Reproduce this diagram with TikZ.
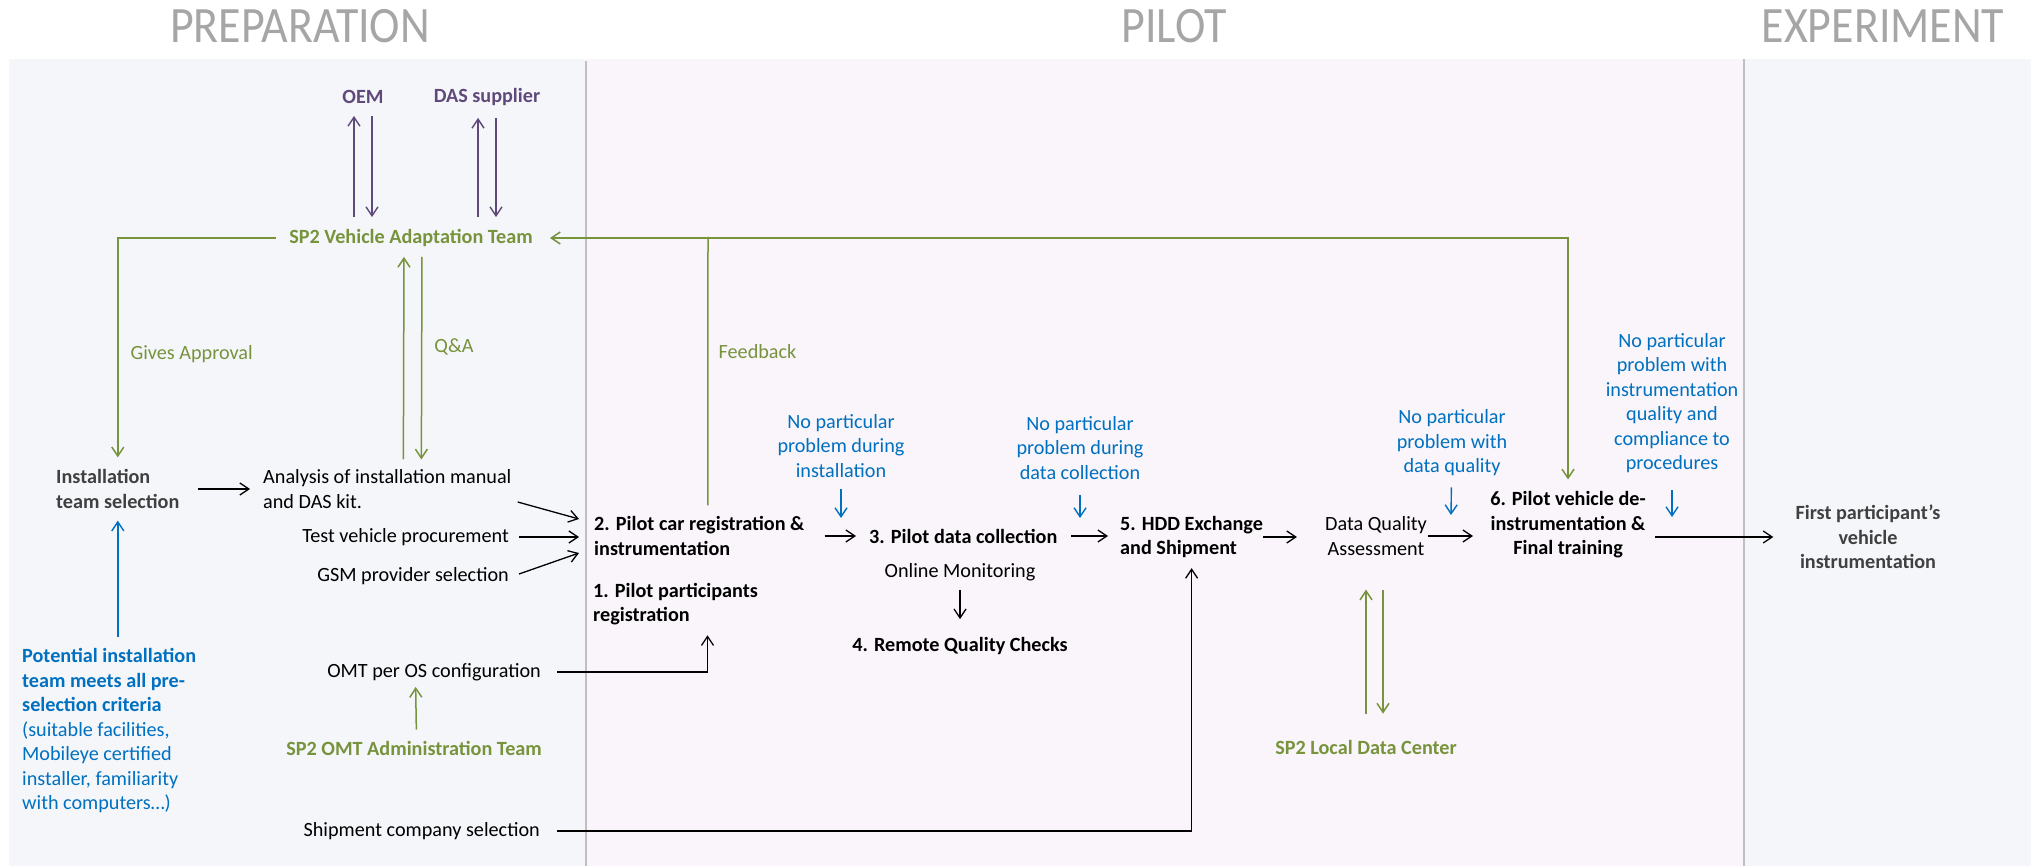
\documentclass[tikz,border=0pt]{standalone}
\usepackage{fontspec}
\setmainfont{Carlito}
\usetikzlibrary{positioning, arrows.meta}

\definecolor{teamgreen}{HTML}{77933C}
\definecolor{supplierpurple}{HTML}{5F497A}
\definecolor{noteblue}{HTML}{0070C0}
\definecolor{ink}{HTML}{404040}
\definecolor{phasegray}{HTML}{A6A6A6}
\definecolor{prepbg}{HTML}{F5F6FA}
\definecolor{pilotbg}{HTML}{F9F5FA}
\definecolor{divider}{HTML}{BFBFBF}

\tikzset{
  txt/.style={font=\fontsize{20.2}{24.5}\selectfont, inner sep=0pt, align=center},
  bld/.style={txt, font=\fontsize{20.2}{24.5}\selectfont\bfseries},
  dark/.style={bld, text=ink},
  team/.style={bld, text=teamgreen},
  supp/.style={bld, text=supplierpurple},
  note/.style={txt, text=noteblue},
  lbl/.style={txt, text=teamgreen, anchor=west},
  phase/.style={font=\fontsize{51}{60}\selectfont, text=phasegray, inner sep=0pt, anchor=base},
  greenline/.style={color=teamgreen, line width=1.5pt},
  purpleline/.style={color=supplierpurple, line width=1.4pt},
  blueline/.style={color=noteblue, line width=1.4pt},
  blackline/.style={color=black, line width=1.3pt}
}

\begin{document}
\begin{tikzpicture}[x=1pt, y=-1pt, node distance=24pt, on grid,
    >={Straight Barb[length=9pt,width=12pt]}]

% panels
\useasboundingbox (0,0) rectangle (2031,866);
\fill[prepbg]  (9,59)    rectangle (586,866);
\fill[pilotbg] (586,59)  rectangle (1744,866);
\fill[prepbg]  (1744,59) rectangle (2031,866);
\draw[divider, line width=2pt] (586,61) -- (586,866) (1744,59) -- (1744,866);

% phase titles
\node[phase] (prep)  at (300,43)  {\scalebox{0.9}[1]{PREPARATION}};
\node[phase] (pilot) at (1174,43) {\scalebox{0.9}[1]{PILOT}};
\node[phase] (exper) at (1883,43) {\scalebox{0.9}[1]{EXPERIMENT}};

% preparation
\node[supp]                 (oem)     at (363,97)  {OEM};
\node[supp]                 (das)     [right=124pt of oem] {DAS supplier};
\node[team]                 (vat)     at (411,238) {SP2 Vehicle Adaptation Team};
\node[dark, anchor=west, align=left] (inst) at (56,489) {Installation\\team selection};
\node[txt, anchor=west, align=left]  (anal) at (263,489) {Analysis of installation manual\\and DAS kit.};
\node[txt, anchor=east]     (testv)   at (509,537) {Test vehicle procurement};
\node[txt, anchor=east]     (gsm)     at (509,576) {GSM provider selection};
\node[txt, anchor=east]     (omt)     at (541,672) {OMT per OS configuration};
\node[team, anchor=east]    (omtadm)  at (542,748) {SP2 OMT Administration Team};
\node[txt, anchor=east]     (ship)    at (540,831) {Shipment company selection};
\node[note, anchor=west, align=left] (crit) at (22,731) {\textbf{Potential installation}\\\textbf{team meets all pre-}\\\textbf{selection criteria}\\(suitable facilities,\\Mobileye certified\\installer, familiarity\\with computers…)};

% pilot
\node[bld, anchor=west, align=left] (pilotcar)  at (594,536) {2. Pilot car registration \&\\instrumentation};
\node[bld, anchor=west, align=left] (pilotpart) at (593,604) {1. Pilot participants\\registration};
\node[bld, anchor=west]     (datacol) at (869,536) {3. Pilot data collection};
\node[txt]                  (online)  at (960,572) {Online Monitoring};
\node[bld]                  (remote)  [below=74pt of online] {4. Remote Quality Checks};
\node[bld, anchor=west, align=left] (hdd) at (1120,537) {5. HDD Exchange\\and Shipment};
\node[txt]                  (dqa)     at (1376,536) {Data Quality\\Assessment};
\node[bld]                  (deinst)  at (1568,525) {6. Pilot vehicle de-\\instrumentation \&\\Final training};
\node[team]                 (ldc)     at (1366,747) {SP2 Local Data Center};
\node[note]                 (nb1)     at (841,446)  {No particular\\problem during\\installation};
\node[note]                 (nb2)     at (1080,448) {No particular\\problem during\\data collection};
\node[note]                 (nb3)     at (1452,443) {No particular\\problem with\\data quality};
\node[note]                 (nb4)     at (1672,403) {No particular\\problem with\\instrumentation\\quality and\\compliance to\\procedures};

% experiment
\node[dark]                 (first)   at (1868,537) {First participant’s\\vehicle\\instrumentation};

% free ends
\coordinate (nb1end) at (841,518);
\coordinate (nb2end) at (1080,518);
\coordinate (nb3end) at (1451,515);
\coordinate (nb4end) at (1672,517);
\coordinate (fbtop)  at (708,237);

% suppliers
\path[purpleline, ->, shorten >=12pt, shorten <=12pt]
    ([xshift=-57pt]vat.north) edge ([xshift=-9pt]oem.south)
    ([xshift=9pt]oem.south)   edge ([xshift=-39pt]vat.north)
    ([xshift=67pt]vat.north)  edge ([xshift=-9pt]das.south)
    ([xshift=9pt]das.south)   edge ([xshift=85pt]vat.north);

% vehicle adaptation team
\draw[greenline, ->, shorten <=13pt, shorten >=12pt] (vat.west) -| node[lbl, pos=0.75, xshift=12pt] {Gives Approval} (inst.north);
\path[greenline, ->, shorten >=10pt, shorten <=10pt]
    ([xshift=16pt]anal.north) edge ([xshift=-7pt]vat.south)
    ([xshift=11pt]vat.south)  edge node[lbl, pos=0.45, xshift=12pt] {Q\&A} ([xshift=34pt]anal.north);
\draw[greenline, <->, shorten <=17pt, shorten >=12pt] (vat.east) -| (deinst.north);
\draw[greenline, shorten <=11pt] ([xshift=8.5pt]pilotcar.north) -- node[lbl, pos=0.59, xshift=10pt] {Feedback} (fbtop);
\path[greenline, ->]
    ([xshift=2.5pt]omtadm.north) edge[shorten <=11pt, shorten >=6pt] ([xshift=-18.5pt]omt.south)
    (ldc.north)                  edge[shorten <=26pt, shorten >=34pt] ([xshift=-10pt]dqa.south)
    ([xshift=7pt]dqa.south)      edge[shorten <=34pt, shorten >=26pt] ([xshift=17pt]ldc.north);

% criteria
\path[blueline, ->]
    (crit.north -| inst.south) edge[shorten <=12pt, shorten >=12pt] (inst.south)
    (nb1) edge[shorten <=11pt] (nb1end)
    (nb2) edge[shorten <=15pt] (nb2end)
    (nb3) edge[shorten <=11pt] (nb3end)
    (nb4) edge[shorten <=17pt] (nb4end);

% flow
\path[blackline, ->]
    (inst.east)  edge[shorten <=18pt, shorten >=13pt] (anal.west)
    ([xshift=6pt,yshift=-13pt]anal.east) edge ([xshift=-15pt,yshift=17pt]pilotcar.west)
    (testv.east) edge[shorten <=10pt, shorten >=15pt] (testv.east -| pilotcar.west)
    ([xshift=10pt,yshift=2pt]gsm.east) edge ([xshift=-15pt,yshift=-17pt]pilotcar.west)
    (pilotcar.east) edge[shorten <=20pt, shorten >=13pt] (pilotcar.east -| datacol.west)
    (datacol.east)  edge[shorten <=14pt, shorten >=12pt] (datacol.east -| hdd.west)
    (online.south)  edge[shorten <=9pt, shorten >=18pt] (remote.north)
    (hdd.east)      edge[shorten >=28pt] (hdd.east -| dqa.west)
    (dqa.east)      edge[shorten <=1pt, shorten >=17pt] (dqa.east -| deinst.west)
    (deinst.east |- first.west) edge[shorten <=9pt, shorten >=22pt] (first.west);
\draw[blackline, ->, shorten <=16pt, shorten >=10pt] (omt.east) -| ([xshift=32pt]pilotpart.south);
\draw[blackline, ->, shorten <=17pt, shorten >=10pt] (ship.east) -| (hdd.south);

\end{tikzpicture}
\end{document}
